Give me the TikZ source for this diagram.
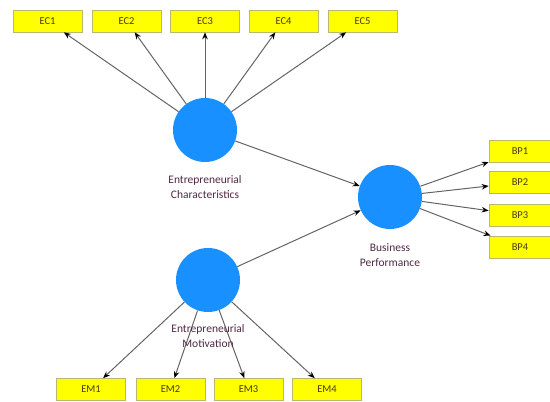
\documentclass[tikz,border=0pt]{standalone}
\usepackage{fontspec}
\setmainfont{Carlito}
\usetikzlibrary{arrows.meta}
\definecolor{lvblue}{RGB}{24,144,255}
\definecolor{indy}{RGB}{255,255,0}
\definecolor{indyborder}{RGB}{185,185,110}
\definecolor{boxtext}{RGB}{70,60,20}
\definecolor{lbltext}{RGB}{80,40,70}
\definecolor{linegrey}{RGB}{100,100,100}
\begin{document}
\begin{tikzpicture}[x=1pt,y=-1pt,
  latent/.style={circle,fill=lvblue,draw=none,minimum size=64pt,inner sep=0pt},
  indicator/.style={rectangle,fill=indy,draw=indyborder,line width=0.6pt,minimum width=69pt,minimum height=22pt,inner sep=0pt,font=\fontsize{10.5}{12}\selectfont,text=boxtext},
  bpind/.style={indicator,minimum width=62pt},
  lbl/.style={align=center,font=\fontsize{11.5}{14.5}\selectfont,text=lbltext,inner sep=0pt},
  arr/.style={draw=linegrey,line width=1pt,-{Stealth[length=7pt,width=5.5pt,color=black]}}]
\useasboundingbox (0,0) rectangle (550,402);
\clip (0,0) rectangle (550,402);
% latent variables
\node[latent] (ec) at (205,130) {};
\node[latent] (bp) at (390,197) {};
\node[latent] (em) at (208,280) {};
% indicators
\node[indicator] (ec1) at (47.5,21) {EC1};
\node[indicator] (ec2) at (126.5,21) {EC2};
\node[indicator] (ec3) at (205,21) {EC3};
\node[indicator] (ec4) at (283.5,21) {EC4};
\node[indicator] (ec5) at (362.5,21) {EC5};
\node[bpind] (bp1) at (520,151) {BP1};
\node[bpind] (bp2) at (520,182.5) {BP2};
\node[bpind] (bp3) at (520,215) {BP3};
\node[bpind] (bp4) at (520,247) {BP4};
\node[indicator] (em1) at (91,389.5) {EM1};
\node[indicator] (em2) at (170.5,389.5) {EM2};
\node[indicator] (em3) at (248.5,389.5) {EM3};
\node[indicator] (em4) at (327,389.5) {EM4};
% arrows
\foreach \i in {1,...,5} \draw[arr] (ec) -- (ec\i);
\foreach \i in {1,...,4} \draw[arr] (bp) -- (bp\i);
\foreach \i in {1,...,4} \draw[arr] (em) -- (em\i);
\draw[arr] (ec) -- (bp);
\draw[arr] (em) -- (bp);
% labels
\node[lbl] (ecl) at (205,187) {Entrepreneurial\\Characteristics};
\node[lbl] (bpl) at (390,255) {Business\\Performance};
\node[lbl] (eml) at (208,336) {Entrepreneurial\\Motivation};
\end{tikzpicture}
\end{document}
